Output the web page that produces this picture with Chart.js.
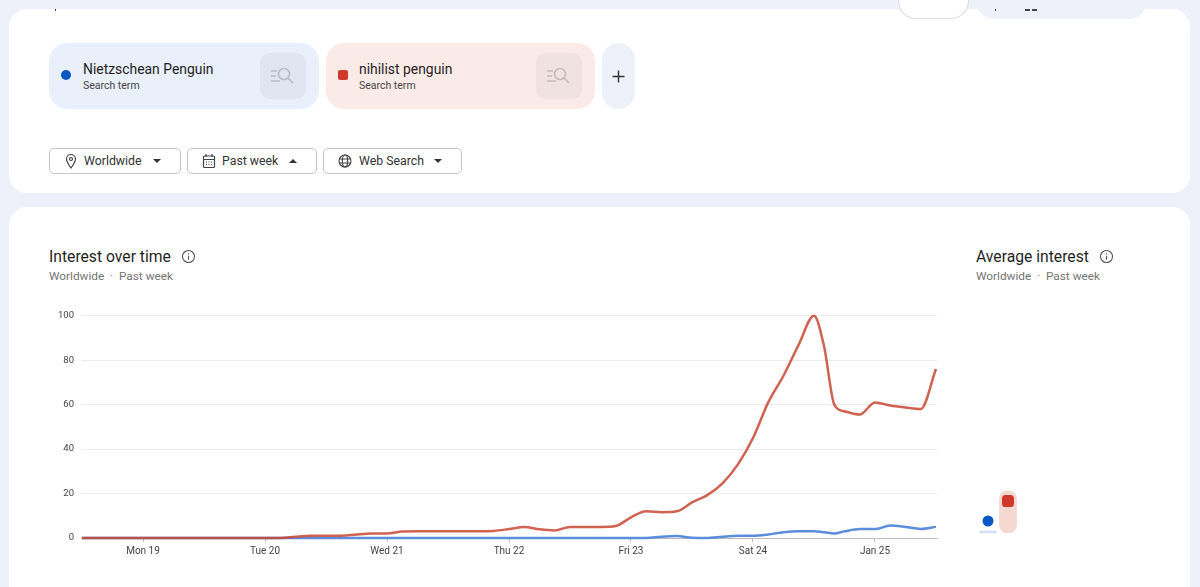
<!DOCTYPE html>
<html>
<head>
<meta charset="utf-8">
<title>Interest over time</title>
<script src="https://cdn.jsdelivr.net/npm/chart.js@4"></script>
<style>
html, body { margin: 0; padding: 0; }
body { width: 1200px; height: 587px; overflow: hidden; background: #eef1f9; position: relative; font-family: Roboto, sans-serif; color: #1f1f1f; }
.abs, .card, .chip, .drop, .sq, .top, canvas, .speck { position: absolute; }
.card { left: 9px; width: 1181px; background: #fff; border-radius: 18px; }
.top { top: 0; height: 19px; border-radius: 0 0 18px 18px; box-sizing: border-box; }
.speck { background: #444; height: 2px; top: 9px; }
.chip { top: 43px; height: 66px; border-radius: 18px; }
.sq { left: 211px; top: 10px; width: 46px; height: 46px; border-radius: 10px; }
.sq svg { position: absolute; left: 10px; top: 13px; }
.term { position: absolute; top: 18px; font-size: 13.9px; line-height: 17px; white-space: nowrap; }
.kind { position: absolute; top: 36px; font-size: 10.5px; line-height: 14px; color: #444; white-space: nowrap; }
.drop { top: 148px; height: 26px; box-sizing: border-box; border: 1px solid #c4c7c5; border-radius: 5px; background: #fff; font-size: 12.3px; line-height: 24px; color: #333; }
.drop span { position: absolute; top: 0; white-space: nowrap; }
.drop svg { position: absolute; top: 4px; }
.caret { position: absolute; top: 10px; width: 0; height: 0; border-left: 4.5px solid transparent; border-right: 4.5px solid transparent; }
.caret.down { border-top: 4.5px solid #333; }
.caret.up { border-bottom: 4.5px solid #333; }
.title { position: absolute; top: 248px; font-size: 15.7px; line-height: 18px; white-space: nowrap; }
.sub { position: absolute; top: 269px; font-size: 11.8px; line-height: 15px; color: #757575; white-space: nowrap; }
</style>
</head>
<body>
<div class="card" style="top:9px;height:184px"></div>
<div class="card" style="top:207px;height:400px"></div>

<div class="top" style="left:898px;width:71px;background:#fff;border:1px solid #dcdcdc;border-top:0"></div>
<div class="top" style="left:976px;width:171px;background:#eef1f9"></div>
<div class="speck" style="left:55px;width:1px"></div>
<div class="speck" style="left:995px;width:1px"></div>
<div class="speck" style="left:1025px;width:5px"></div>
<div class="speck" style="left:1032px;width:5px"></div>

<div class="chip" style="left:49px;width:270px;background:#e9effb">
  <div class="abs" style="left:12px;top:27px;width:10px;height:10px;border-radius:50%;background:#0b57c4"></div>
  <div class="term" style="left:34px">Nietzschean Penguin</div>
  <div class="kind" style="left:34px">Search term</div>
  <div class="sq" style="background:#dfe5f1"><svg width="26" height="20" viewBox="0 0 26 20" fill="none" stroke="#b6bcca" stroke-width="1.6"><path d="M1 5h6M1 10h5M1 15h9"/><circle cx="14" cy="8" r="5.5"/><path d="M18 12l5 5"/></svg></div>
</div>
<div class="chip" style="left:326px;width:269px;background:#fbebe8">
  <div class="abs" style="left:12px;top:27px;width:10px;height:10px;border-radius:2px;background:#cf3a2a"></div>
  <div class="term" style="left:33px">nihilist penguin</div>
  <div class="kind" style="left:33px">Search term</div>
  <div class="sq" style="left:210px;background:#f0e2df"><svg width="26" height="20" viewBox="0 0 26 20" fill="none" stroke="#c9bab7" stroke-width="1.6"><path d="M1 5h6M1 10h5M1 15h9"/><circle cx="14" cy="8" r="5.5"/><path d="M18 12l5 5"/></svg></div>
</div>
<div class="chip" style="left:602px;width:33px;background:#eef1f9">
  <svg class="abs" style="left:10px;top:27px" width="13" height="13" viewBox="0 0 13 13" stroke="#333" stroke-width="1.4"><path d="M6.5 0.5v12M0.5 6.5h12"/></svg>
</div>

<div class="drop" style="left:49px;width:132px">
  <svg style="left:14px" width="14" height="16" viewBox="0 0 14 16" fill="none" stroke="#444" stroke-width="1.2"><path d="M7 15C4 11 2.5 8.5 2.5 6a4.5 4.5 0 0 1 9 0c0 2.500-1.500 5-4.500 9z"/><circle cx="7" cy="6" r="1.500"/></svg>
  <span style="left:34px">Worldwide</span>
  <div class="caret down" style="left:103px"></div>
</div>
<div class="drop" style="left:187px;width:130px">
  <svg style="left:14px" width="14" height="16" viewBox="0 0 14 16" fill="none" stroke="#444" stroke-width="1.2"><rect x="1.500" y="3" width="11" height="11.500" rx="1"/><path d="M1.500 6.500h11M4 1v3M10 1v3M4 9h1M6.500 9h1M9 9h1M4 11.500h1M6.500 11.500h1M9 11.500h1"/></svg>
  <span style="left:34px">Past week</span>
  <div class="caret up" style="left:101px"></div>
</div>
<div class="drop" style="left:323px;width:139px">
  <svg style="left:14px" width="14" height="16" viewBox="0 0 14 16" fill="none" stroke="#444" stroke-width="1.100"><circle cx="7" cy="8" r="6"/><ellipse cx="7" cy="8" rx="2.700" ry="6"/><path d="M1.300 6h11.400M1.300 10h11.400"/></svg>
  <span style="left:35px">Web Search</span>
  <div class="caret down" style="left:110px"></div>
</div>

<div class="title" style="left:49px">Interest over time</div>
<svg class="abs" style="left:181px;top:249px" width="15" height="15" viewBox="0 0 15 15" fill="none" stroke="#555" stroke-width="1.100"><circle cx="7.500" cy="7.500" r="6"/><path d="M7.500 6.800v4M7.500 4.200v1.200"/></svg>
<div class="sub" style="left:49px">Worldwide &nbsp;·&nbsp; Past week</div>
<div class="title" style="left:976px">Average interest</div>
<svg class="abs" style="left:1099px;top:249px" width="15" height="15" viewBox="0 0 15 15" fill="none" stroke="#555" stroke-width="1.100"><circle cx="7.500" cy="7.500" r="6"/><path d="M7.500 6.800v4M7.500 4.200v1.200"/></svg>
<div class="sub" style="left:976px">Worldwide &nbsp;·&nbsp; Past week</div>

<canvas id="lineChart" style="left:40px;top:303px;width:898px;height:265px" width="898" height="265"></canvas>
<canvas id="avgChart" style="left:978px;top:481px;width:40px;height:60px" width="40" height="60"></canvas>

<script>
// hours since Mon 19 00:00
var hours = [-12,-9,-6,-3,0,3,6,9,12,15,18,21,24,27,30,33,36,39,42,45,48,51,54,57,60,63,66,69,72,75,78,81,84,87,90,93,96,99,102,105,108,111,114,117,120,123,126,129,132,134,136,138,141,144,147,150,153,156];
var penguinNihilist = [0,0,0,0,0,0,0,0,0,0,0,0,0,0,0.6,1,1,1,1.6,2,2,2.9,3,3,3,3,3,3.2,4,4.9,3.9,3.4,5,5,5,5.4,9.3,12,11.6,12,16,19.3,24.6,33,45,61,73,87,100,86,60,57,55.5,61,59.6,58.7,58,76];
var penguinNietzsche = [0,0,0,0,0,0,0,0,0,0,0,0,0,0,0,0,0,0,0,0,0,0,0,0,0,0,0,0,0,0,0,0,0,0,0,0,0,0,0.6,0.9,0.1,0,0.6,1,1,1.6,2.6,3,3,2.6,2,3,4,4,5.6,5,4.1,5];
var tickHours = [0,24,48,72,96,120,144];
var tickLabels = ['Mon 19','Tue 20','Wed 21','Thu 22','Fri 23','Sat 24','Jan 25'];
var yTicks = [0,20,40,60,80,100];

var termNames = ['Nietzschean Penguin','nihilist penguin'];
var avgMarkers = [5.4,14.4];
var avgBars = [1,19];

function toPoints(xs, ys) {
  return xs.map(function(x, i) { return {x: x, y: ys[i]}; });
}

new Chart(document.getElementById('lineChart').getContext('2d'), {
  type: 'line',
  data: {
    datasets: [{
      label: termNames[0],
      data: toPoints(hours, penguinNietzsche),
      borderColor: '#5b8ddc',
      borderWidth: 2.5,
      pointRadius: 0,
      cubicInterpolationMode: 'monotone',
      clip: false,
      order: 2
    }, {
      label: termNames[1],
      data: toPoints(hours, penguinNihilist),
      borderColor: 'rgba(200, 70, 50, 0.85)',
      borderWidth: 2.5,
      pointRadius: 0,
      cubicInterpolationMode: 'monotone',
      clip: false,
      order: 1
    }]
  },
  options: {
    responsive: false,
    animation: false,
    layout: {autoPadding: false, padding: {top: 8, right: 1, left: 0, bottom: 0}},
    plugins: {legend: {display: false}, tooltip: {enabled: false}},
    scales: {
      x: {
        type: 'linear',
        min: -12.2,
        max: 156.2,
        afterBuildTicks: function(scale) {
          scale.ticks = tickHours.map(function(h) { return {value: h}; });
        },
        afterFit: function(scale) { scale.height = 30; },
        border: {color: '#bdbdbd', width: 1},
        grid: {drawOnChartArea: false, drawTicks: true, tickLength: 4, color: '#bdbdbd'},
        ticks: {
          autoSkip: false,
          maxRotation: 0,
          color: '#444',
          padding: 3,
          font: {family: 'Roboto', size: 10},
          callback: function(value) { return tickLabels[tickHours.indexOf(value)]; }
        }
      },
      y: {
        min: 0,
        max: 100,
        afterBuildTicks: function(scale) {
          scale.ticks = yTicks.map(function(v) { return {value: v}; });
        },
        afterFit: function(scale) { scale.width = 41; },
        border: {display: false},
        grid: {color: '#ececec', drawTicks: false},
        ticks: {color: '#444', padding: 7, font: {family: 'Roboto', size: 9.5}}
      }
    }
  }
});

new Chart(document.getElementById('avgChart').getContext('2d'), {
  data: {
    labels: termNames,
    datasets: [{
      type: 'line',
      data: avgMarkers,
      showLine: false,
      pointStyle: ['circle', 'rectRounded'],
      pointRadius: [5.5, 7],
      pointBackgroundColor: ['#0b57c4', '#cf3a2a'],
      pointBorderWidth: 0,
      clip: false,
      order: 1
    }, {
      type: 'bar',
      data: avgBars,
      backgroundColor: ['#d5e0f5', '#f6d8d3'],
      barThickness: 17,
      borderRadius: 8,
      borderSkipped: false,
      order: 2
    }]
  },
  options: {
    responsive: false,
    animation: false,
    layout: {autoPadding: false, padding: 0},
    plugins: {legend: {display: false}, tooltip: {enabled: false}},
    scales: {
      x: {display: false, offset: true},
      y: {display: false, min: -3.6, max: 23.4}
    }
  }
});
</script>
</body>
</html>
